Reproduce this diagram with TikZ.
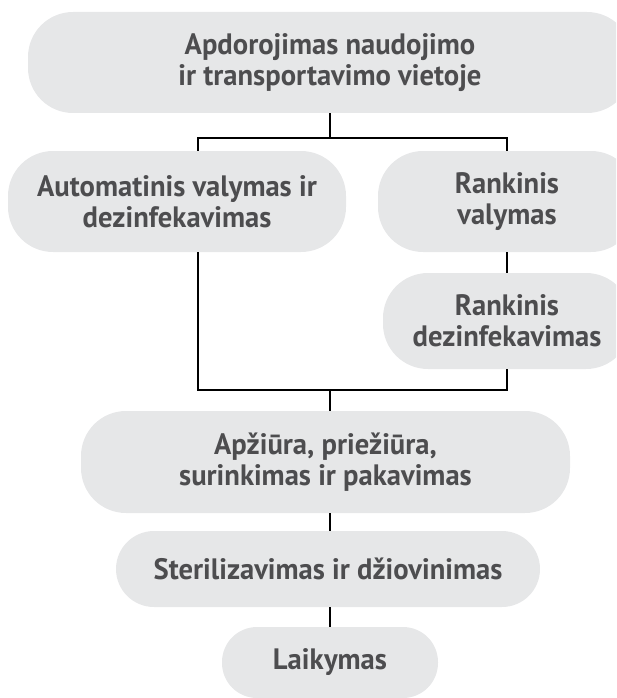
\documentclass[tikz,border=0pt]{standalone}
\usepackage{fontspec}
\setmainfont{PT Sans}[FakeStretch=0.97]
\definecolor{boxfill}{HTML}{E6E7E8}
\definecolor{txt}{HTML}{4D4D4F}
\begin{document}
\begin{tikzpicture}[x=1pt,y=-1pt,
  pill/.style={fill=boxfill,rounded corners=#1,inner sep=0pt,align=center,
    text=txt,font=\fontsize{29.5}{31}\selectfont\bfseries},
  pill/.default=45pt,
  conn/.style={draw=black,line width=1.6pt}]
\useasboundingbox (0,0) rectangle (616,698);
\clip (0,0) rectangle (616,698);
\node[pill,minimum width=604pt,minimum height=101pt] (n1) at (330,62.5) {Apdorojimas naudojimo\\ir transportavimo vietoje};
\node[pill,minimum width=338pt,minimum height=101pt] (n2) at (177,201.5) {Automatinis valymas ir\\dezinfekavimas};
\node[pill,minimum width=258pt,minimum height=101pt] (n3) at (507,201.5) {Rankinis\\valymas};
\node[pill,minimum width=248pt,minimum height=96pt] (n4) at (507,321) {Rankinis\\dezinfekavimas};
\node[pill,minimum width=489pt,minimum height=102pt] (n5) at (325.5,462) {Apžiūra, priežiūra,\\surinkimas ir pakavimas};
\node[pill=38pt,minimum width=424pt,minimum height=76pt] (n6) at (328,569) {Sterilizavimas ir džiovinimas};
\node[pill=35pt,minimum width=216pt,minimum height=71pt] (n7) at (330,662.5) {Laikymas};
\coordinate (j1) at (330,138);
\coordinate (j2) at (330,390);
\draw[conn] (n1.south) -- (j1);
\draw[conn] (j1) -| ([xshift=21pt]n2.north);
\draw[conn] (j1) -| (n3.north);
\draw[conn] (n3.south) -- (n4.north);
\draw[conn] ([xshift=21pt]n2.south) |- (j2);
\draw[conn] (n4.south) |- (j2);
\draw[conn] (j2) -- (n5.north -| j2);
\draw[conn] (n5.south -| j2) -- (n6.north -| j2);
\draw[conn] (n6.south -| j2) -- (n7.north -| j2);
\end{tikzpicture}
\end{document}
